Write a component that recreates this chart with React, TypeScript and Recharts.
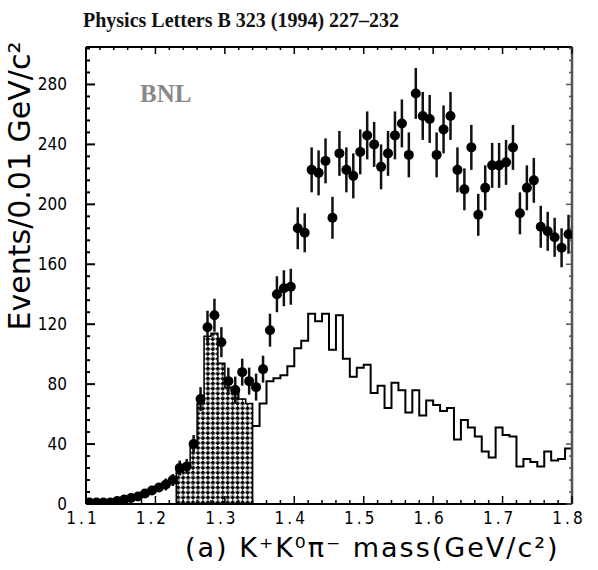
import React from "react"
import { ComposedChart, XAxis, YAxis, Scatter, ErrorBar, Line, Area } from "recharts"

// data points, bin centres (GeV/c^2), 0.01 GeV bins
const massBins = [
  1.105, 1.115, 1.125, 1.135, 1.145, 1.155, 1.165, 1.175, 1.185, 1.195,
  1.205, 1.215, 1.225, 1.235, 1.245, 1.255, 1.265, 1.275, 1.285, 1.295,
  1.305, 1.315, 1.325, 1.335, 1.345, 1.355, 1.365, 1.375, 1.385, 1.395,
  1.405, 1.415, 1.425, 1.435, 1.445, 1.455, 1.465, 1.475, 1.485, 1.495,
  1.505, 1.515, 1.525, 1.535, 1.545, 1.555, 1.565, 1.575, 1.585, 1.595,
  1.605, 1.615, 1.625, 1.635, 1.645, 1.655, 1.665, 1.675, 1.685, 1.695,
  1.705, 1.715, 1.725, 1.735, 1.745, 1.755, 1.765, 1.775, 1.785, 1.795,
]
const events = [
  1, 1, 1, 1, 2, 3, 4, 5, 7, 9,
  11, 13, 16, 24, 25, 40, 70, 118, 126, 108,
  82, 76, 88, 82, 78, 90, 116, 140, 144, 145,
  184, 181, 223, 221, 229, 191, 234, 223, 219, 235,
  246, 240, 225, 234, 246, 254, 233, 274, 259, 257,
  233, 250, 259, 223, 210, 238, 193, 211, 226, 226,
  228, 238, 194, 211, 216, 185, 182, 178, 171, 180,
]
const eventErrors = [
  1, 1, 1, 1, 1.5, 2, 2, 2, 3, 3,
  3, 4, 4, 5, 5, 6, 8, 11, 11, 10,
  9, 9, 9, 9, 9, 9, 11, 12, 12, 12,
  14, 13, 15, 15, 15, 14, 15, 15, 15, 15,
  16, 15, 15, 15, 16, 16, 15, 17, 16, 16,
  15, 16, 16, 15, 14, 15, 14, 15, 15, 15,
  15, 15, 14, 15, 15, 14, 13, 13, 13, 13,
]

// hatched histogram (peak region)
const hatchedBins = [1.235, 1.245, 1.255, 1.265, 1.275, 1.285, 1.295, 1.305, 1.315, 1.325, 1.335]
const hatchedCounts = [22, 25, 38, 67, 112, 114, 94, 78, 74, 70, 67]

// open histogram
const bgBins = [
  1.345, 1.355, 1.365, 1.375, 1.385, 1.395, 1.405, 1.415, 1.425, 1.435,
  1.445, 1.455, 1.465, 1.475, 1.485, 1.495, 1.505, 1.515, 1.525, 1.535,
  1.545, 1.555, 1.565, 1.575, 1.585, 1.595, 1.605, 1.615, 1.625, 1.635,
  1.645, 1.655, 1.665, 1.675, 1.685, 1.695, 1.705, 1.715, 1.725, 1.735,
  1.745, 1.755, 1.765, 1.775, 1.785, 1.795,
]
const bgCounts = [
  52, 67, 82, 84, 86, 92, 104, 109, 127, 122,
  127, 103, 126, 97, 85, 91, 93, 74, 79, 64,
  81, 76, 61, 76, 59, 69, 66, 62, 64, 43,
  56, 51, 45, 35, 31, 51, 46, 45, 25, 30,
  28, 25, 35, 29, 30, 37,
]

const binWidth = 0.01

const xMajorTicks = [1.1, 1.2, 1.3, 1.4, 1.5, 1.6, 1.7, 1.8]
const xMinorTicks = [
  1.12, 1.14, 1.16, 1.18, 1.22, 1.24, 1.26, 1.28, 1.32, 1.34, 1.36, 1.38,
  1.42, 1.44, 1.46, 1.48, 1.52, 1.54, 1.56, 1.58, 1.62, 1.64, 1.66, 1.68,
  1.72, 1.74, 1.76, 1.78,
]
const yMajorTicks = [0, 40, 80, 120, 160, 200, 240, 280]
const yMinorTicks = [
  8, 16, 24, 32, 48, 56, 64, 72, 88, 96, 104, 112, 128, 136, 144, 152,
  168, 176, 184, 192, 208, 216, 224, 232, 248, 256, 264, 272, 288, 296, 304,
]

const X_DOMAIN = [1.1, 1.8]
const Y_DOMAIN = [0, 305]

const points = massBins.map((m, i) => ({ m, v: events[i], err: eventErrors[i] }))

// step data: one point at each lower bin edge, plus the closing edge.
// closed=true drops the outline to zero at both ends
function toSteps(bins: number[], counts: number[], closed = false) {
  const lo = +(bins[0] - binWidth / 2).toFixed(3)
  const hi = +(bins[bins.length - 1] + binWidth / 2).toFixed(3)
  const rows = bins.map((c, i) => ({ m: +(c - binWidth / 2).toFixed(3), v: counts[i] }))
  rows.push({ m: hi, v: counts[counts.length - 1] })
  if (closed) {
    rows.unshift({ m: lo, v: 0 })
    rows.push({ m: hi, v: 0 })
  }
  return rows
}
const hatchedSteps = toSteps(hatchedBins, hatchedCounts, true)
const bgSteps = toSteps(bgBins, bgCounts)

const tickFont = "'Liberation Sans Narrow', 'DejaVu Sans Condensed', 'Liberation Sans', sans-serif"

// ticks are drawn with tickSize 0 / tickMargin 0, so (x, y) sits on the axis line
const BottomTick = ({ x, y, payload }: any) => {
  const major = xMajorTicks.includes(payload.value)
  return (
    <g>
      <line x1={x} y1={y} x2={x} y2={y - (major ? 8 : 4)} stroke="#000" strokeWidth={1.5} />
      {major && (
        <text x={x - 3} y={y + 20} textAnchor="middle" fontSize={17} fontFamily={tickFont} letterSpacing={3} fill="#000">
          {payload.value.toFixed(1)}
        </text>
      )}
    </g>
  )
}

const TopTick = ({ x, y, payload }: any) => {
  const major = xMajorTicks.includes(payload.value)
  return <line x1={x} y1={y} x2={x} y2={y + (major ? 7 : 3)} stroke="#000" strokeWidth={1.5} />
}

const LeftTick = ({ x, y, payload }: any) => {
  const major = yMajorTicks.includes(payload.value)
  return (
    <g>
      <line x1={x} y1={y} x2={x + (major ? 9 : 4)} y2={y} stroke="#000" strokeWidth={2} />
      {major && (
        <text x={x - 19} y={y + 6} textAnchor="end" fontSize={17} fontFamily={tickFont} fill="#000">
          {payload.value}
        </text>
      )}
    </g>
  )
}

const RightTick = ({ x, y, payload }: any) => {
  const major = yMajorTicks.includes(payload.value)
  return <line x1={x} y1={y} x2={x - (major ? 6 : 3)} y2={y} stroke="#555" strokeWidth={1.5} />
}

const Marker = (props: any) => <circle cx={props.cx} cy={props.cy} r={5} fill="#000" />

export default function App() {
  return (
    <div style={{ position: "absolute", left: 0, top: 0, width: 598, height: 570, background: "#fff" }}>
      <svg width={0} height={0} style={{ position: "absolute" }}>
        <defs>
          <pattern id="hatch" patternUnits="userSpaceOnUse" width={7} height={7} patternTransform="rotate(45)">
            <rect x={0} y={0} width={7} height={7} fill="#fff" />
            <rect x={0} y={0} width={3.5} height={3.5} fill="#000" />
            <rect x={3.5} y={3.5} width={3.5} height={3.5} fill="#000" />
          </pattern>
        </defs>
      </svg>

      <ComposedChart width={598} height={570} margin={{ top: 37, right: 16, bottom: 36, left: 36 }}>
        <XAxis
          dataKey="m"
          type="number"
          domain={X_DOMAIN}
          allowDataOverflow
          ticks={[...xMajorTicks, ...xMinorTicks]}
          interval={0}
          height={30}
          tickSize={0}
          tickMargin={0}
          tickLine={false}
          axisLine={{ stroke: "#000", strokeWidth: 2 }}
          tick={<BottomTick />}
        />
        <XAxis
          xAxisId="top"
          orientation="top"
          dataKey="m"
          type="number"
          domain={X_DOMAIN}
          allowDataOverflow
          ticks={[...xMajorTicks, ...xMinorTicks]}
          interval={0}
          height={10}
          tickSize={0}
          tickMargin={0}
          tickLine={false}
          axisLine={{ stroke: "#000", strokeWidth: 2 }}
          tick={<TopTick />}
        />
        <YAxis
          type="number"
          domain={Y_DOMAIN}
          allowDataOverflow
          ticks={[...yMajorTicks, ...yMinorTicks]}
          interval={0}
          width={50}
          tickSize={0}
          tickMargin={0}
          tickLine={false}
          axisLine={{ stroke: "#000", strokeWidth: 2 }}
          tick={<LeftTick />}
        />
        <YAxis
          yAxisId="right"
          orientation="right"
          type="number"
          domain={Y_DOMAIN}
          allowDataOverflow
          ticks={[...yMajorTicks, ...yMinorTicks]}
          interval={0}
          width={10}
          tickSize={0}
          tickMargin={0}
          tickLine={false}
          axisLine={{ stroke: "#555", strokeWidth: 2.5 }}
          tick={<RightTick />}
        />
        <Area
          data={hatchedSteps}
          dataKey="v"
          type="stepAfter"
          stroke="#000"
          strokeWidth={1.5}
          fill="url(#hatch)"
          fillOpacity={1}
          isAnimationActive={false}
        />
        <Line
          data={bgSteps}
          dataKey="v"
          type="stepAfter"
          stroke="#000"
          strokeWidth={2}
          dot={false}
          isAnimationActive={false}
        />
        <Scatter data={points} dataKey="v" shape={<Marker />} isAnimationActive={false}>
          <ErrorBar dataKey="err" direction="y" width={0} stroke="#111" strokeWidth={2.5} />
        </Scatter>
      </ComposedChart>

      <div
        style={{
          position: "absolute", left: 83, top: 9, whiteSpace: "nowrap",
          fontFamily: "'Liberation Serif', serif", fontWeight: "bold", fontSize: 20, color: "#111",
        }}
      >
        Physics Letters B 323 (1994) 227–232
      </div>
      <div
        style={{
          position: "absolute", left: 140, top: 80, whiteSpace: "nowrap",
          fontFamily: "'Liberation Serif', serif", fontWeight: "bold", fontSize: 25, color: "#888",
        }}
      >
        BNL
      </div>
      <div
        style={{
          position: "absolute", left: 19, top: 186, whiteSpace: "nowrap",
          transform: "translate(-50%, -50%) rotate(-90deg)",
          fontFamily: "'DejaVu Sans', sans-serif", fontSize: 30, color: "#000",
        }}
      >
        Events/0.01 GeV/c²
      </div>
      <div
        style={{
          position: "absolute", left: 185, top: 532, whiteSpace: "nowrap",
          fontFamily: "'DejaVu Sans', sans-serif", fontSize: 27, letterSpacing: 2, color: "#000",
        }}
      >
        (a) K⁺K⁰π⁻ mass(GeV/c²)
      </div>
    </div>
  )
}
